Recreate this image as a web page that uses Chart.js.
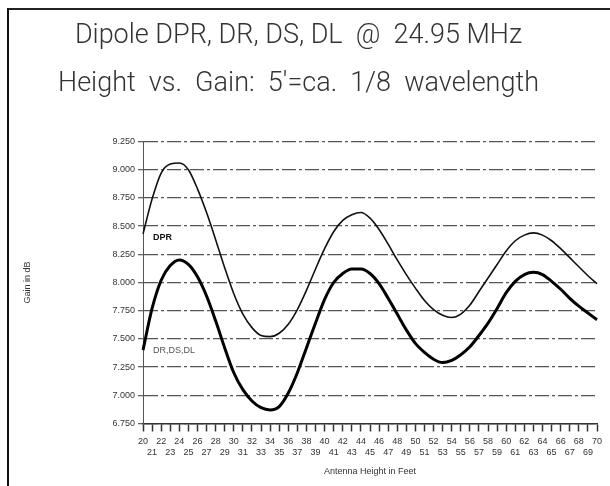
<!DOCTYPE html>
<html>
<head>
<meta charset="utf-8">
<script src="https://cdn.jsdelivr.net/npm/chart.js@4.4.0/dist/chart.umd.min.js"></script>
<style>
    html, body { margin: 0; padding: 0; background: #fff; }
    #frame { position: absolute; left: 0; top: 0; width: 610px; height: 486px; overflow: hidden; }
    #box { position: absolute; left: 7px; top: 8px; width: 620px; height: 500px; border-left: 2px solid #111; border-top: 2px solid #222; }
    canvas { position: absolute; left: 0; top: 0; }
</style>
</head>
<body>
<div id="frame">
    <div id="box"></div>
    <canvas id="myChart" width="610" height="486"></canvas>
</div>
<script>
    // Altura de la antena (pies)
    const alturas = ['20','21','22','23','24','25','26','27','28','29',
                     '30','31','32','33','34','35','36','37','38','39',
                     '40','41','42','43','44','45','46','47','48','49',
                     '50','51','52','53','54','55','56','57','58','59',
                     '60','61','62','63','64','65','66','67','68','69','70'];

    // Ganancia en dB, dipolo DPR
    const gananciaDPR = [8.43, 8.74, 8.97, 9.05, 9.06, 9.00, 8.83, 8.62, 8.38, 8.13,
                         7.90, 7.72, 7.60, 7.53, 7.52, 7.55, 7.63, 7.76, 7.93, 8.12,
                         8.30, 8.45, 8.55, 8.60, 8.62, 8.57, 8.47, 8.34, 8.20, 8.07,
                         7.95, 7.84, 7.76, 7.71, 7.69, 7.72, 7.80, 7.92, 8.04, 8.16,
                         8.28, 8.37, 8.42, 8.44, 8.42, 8.37, 8.30, 8.22, 8.14, 8.06, 7.99];

    // Ganancia en dB, dipolos DR, DS, DL
    const gananciaDR = [7.40, 7.77, 8.02, 8.15, 8.20, 8.16, 8.05, 7.88, 7.66, 7.42,
                        7.20, 7.05, 6.95, 6.89, 6.87, 6.90, 7.02, 7.20, 7.42, 7.64,
                        7.85, 8.00, 8.08, 8.12, 8.12, 8.08, 7.99, 7.86, 7.72, 7.58,
                        7.46, 7.38, 7.32, 7.29, 7.31, 7.36, 7.43, 7.53, 7.64, 7.77,
                        7.91, 8.01, 8.07, 8.09, 8.07, 8.01, 7.94, 7.86, 7.79, 7.73, 7.67];

    // Etiquetas sobre las curvas: texto, altura y ganancia donde empiezan
    const etiquetas = ['DPR', 'DR,DS,DL'];
    const etiquetaAltura = ['21', '21'];
    const etiquetaGanancia = [8.40, 7.40];

    const ejeY = { min: 6.75, max: 9.25, paso: 0.25 };

    const fuentePeque = '"Liberation Sans"';

    // Plugin para escribir los nombres de las curvas
    const nombresCurvas = {
        id: 'nombresCurvas',
        afterDatasetsDraw(chart) {
            const c = chart.ctx;
            const x = chart.scales.x;
            const y = chart.scales.y;
            c.save();
            c.textBaseline = 'middle';
            c.textAlign = 'left';
            etiquetas.forEach((txt, i) => {
                c.font = i === 0 ? 'bold 9px ' + fuentePeque : '9px ' + fuentePeque;
                c.fillStyle = i === 0 ? '#111' : '#555';
                const px = x.getPixelForValue(alturas.indexOf(etiquetaAltura[i])) + 1;
                const py = y.getPixelForValue(etiquetaGanancia[i]);
                c.fillText(txt, px, py);
            });
            c.restore();
        }
    };

    const ctx = document.getElementById('myChart').getContext('2d');
    const myChart = new Chart(ctx, {
        type: 'line',
        data: {
            labels: alturas,
            datasets: [
                {
                    label: 'DPR',
                    data: gananciaDPR,
                    borderColor: '#111',
                    borderWidth: 1.6,
                    pointRadius: 0,
                    cubicInterpolationMode: 'monotone',
                    fill: false
                },
                {
                    label: 'DR, DS, DL',
                    data: gananciaDR,
                    borderColor: '#000',
                    borderWidth: 3,
                    pointRadius: 0,
                    cubicInterpolationMode: 'monotone',
                    fill: false
                }
            ]
        },
        options: {
            responsive: false,
            animation: false,
            devicePixelRatio: 1,
            layout: { padding: { top: 13, right: 13, bottom: 9, left: 0 } },
            plugins: {
                legend: { display: false },
                tooltip: { enabled: false },
                title: {
                    display: true,
                    text: ['Dipole DPR, DR, DS, DL  @  24.95 MHz', 'Height  vs.  Gain:  5\'=ca.  1/8  wavelength'],
                    color: '#333',
                    font: { family: 'Roboto', size: 27, weight: '300', lineHeight: 1.75 },
                    padding: { top: 0, bottom: 34 }
                }
            },
            scales: {
                x: {
                    offset: false,
                    grid: {
                        display: true,
                        drawOnChartArea: false,
                        drawTicks: true,
                        tickLength: 8,
                        tickColor: '#333',
                        tickWidth: 1.5
                    },
                    border: { display: true, color: '#333', width: 1.5 },
                    ticks: {
                        autoSkip: false,
                        maxRotation: 0,
                        minRotation: 0,
                        padding: 5,
                        color: '#333',
                        font: { family: fuentePeque, size: 9, lineHeight: 1.15 },
                        callback: function (value, index) {
                            const lab = this.getLabelForValue(value);
                            return index % 2 === 0 ? [lab, ''] : ['', lab];
                        }
                    },
                    title: {
                        display: true,
                        text: 'Antenna Height in Feet',
                        color: '#333',
                        font: { family: fuentePeque, size: 9 },
                        padding: { top: 4, bottom: 0 }
                    }
                },
                y: {
                    min: ejeY.min,
                    max: ejeY.max,
                    afterFit: (scale) => { scale.width = 143; },
                    grid: {
                        color: '#555',
                        lineWidth: 1.3,
                        tickLength: 5,
                        tickColor: '#666',
                        tickBorderDash: []
                    },
                    border: { display: true, color: '#555', width: 1, dash: [14, 3, 3, 3] },
                    ticks: {
                        stepSize: ejeY.paso,
                        padding: 3,
                        color: '#333',
                        font: { family: fuentePeque, size: 9 },
                        callback: (v) => Number(v).toFixed(3)
                    },
                    title: {
                        display: true,
                        text: 'Gain in dB',
                        color: '#333',
                        font: { family: fuentePeque, size: 9 },
                        padding: { top: 22, bottom: 0 }
                    }
                }
            }
        },
        plugins: [nombresCurvas]
    });
</script>
</body>
</html>
